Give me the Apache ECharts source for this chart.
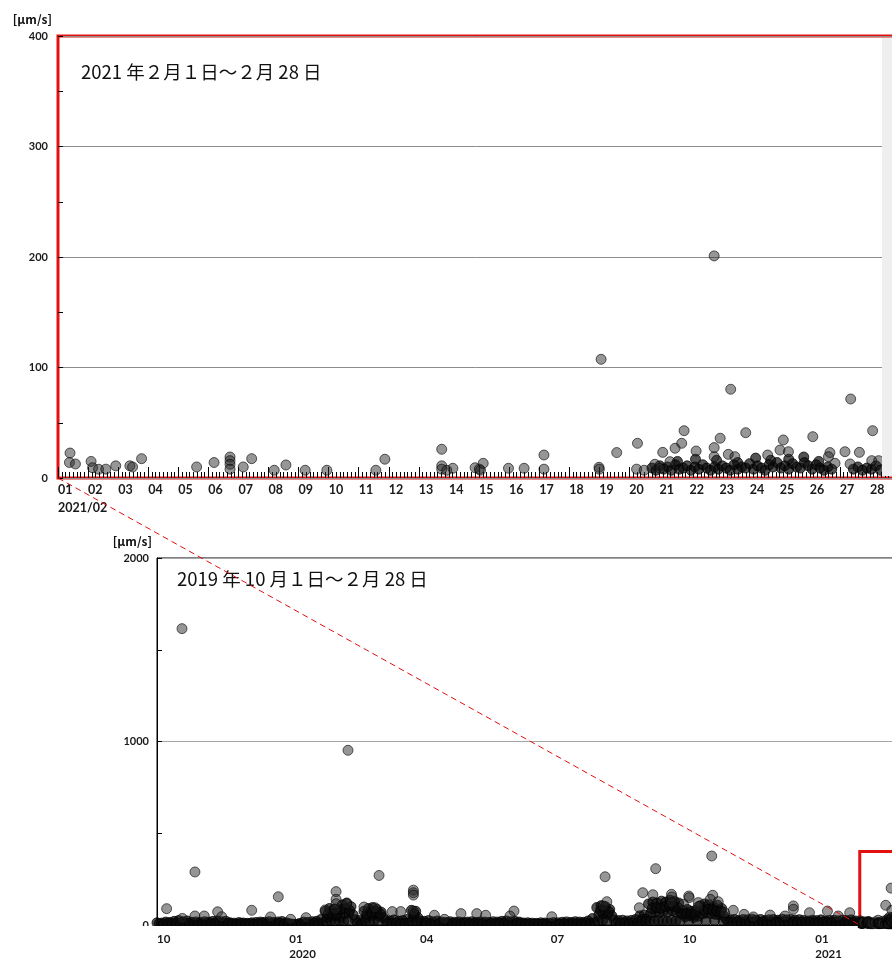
<!DOCTYPE html>
<html><head><meta charset="utf-8">
<script src="https://cdn.jsdelivr.net/npm/echarts@6/dist/echarts.min.js"></script>
<style>html,body{margin:0;padding:0;background:#fff}#c{width:892px;height:961px}</style>
</head><body><div id="c"></div>
<script>
// ---------- texts ----------
const topTitle = '2021 年２月１日～２月 28 日';
const bottomTitle = '2019 年 10 月１日～２月 28 日';
const unitLabel = '[µm/s]';
const topDayLabels = ['01','02','03','04','05','06','07','08','09','10','11','12','13','14','15','16','17','18','19','20','21','22','23','24','25','26','27','28'];
const topMonthLabel = '2021/02';
const bottomTickDays = [0, 92, 183, 274, 366, 458];          // days since 2019-10-01
const bottomTickLabels = ['10', '01\n2020', '04', '07', '10', '01\n2021'];
const febOffset = 489;   // days from 2019-10-01 to 2021-02-01
const topYTicks = [0, 100, 200, 300, 400];
const bottomYTicks = [0, 1000, 2000];

// ---------- Feb 2021 data: [day offset from 2021-02-01 00:00, µm/s] ----------
const febPoints = [
 [0.40,22.6],[0.38,14],[0.58,12.7],[1.10,15],[1.15,9.3],[1.35,7.9],[1.59,8],[1.92,11],[2.39,11],[2.48,10],
 [2.78,17.5],[4.61,10],[5.19,14],[5.72,19],[5.72,15.7],[5.72,12.4],[5.72,8],[6.16,10],[6.44,17.5],[7.19,7],
 [7.58,11.8],[8.22,7],[8.94,7],[10.57,7],[10.87,17],[12.76,26],[12.76,11],[12.76,8],[12.93,7],[13.13,8.8],
 [13.87,9.3],[14.01,8],[14.05,7],[14.14,13.3],[14.98,8.8],[15.50,8.8],[16.16,20.8],[16.16,8],[17.99,9.7],[18.0,8],
 [18.06,107.4],[18.58,23],[19.27,31.4],[19.24,8],[19.49,7],[19.85,12.4],[20.11,23.2],[20.02,8.8],[20.35,14.8],[20.52,26.9],
 [20.74,31.4],[20.82,42.8],[21.22,24.4],[21.82,201],[21.82,27.5],[21.82,19.3],[22.02,36],[22.29,21.4],[22.37,80.3],[22.51,19.3],
 [22.87,41],[23.60,20.8],[24.12,34.4],[24.01,25.3],[24.29,23.8],[25.10,37.4],[25.67,23],[25.62,19.3],[25.84,13.3],[26.17,23.8],
 [26.34,12.7],[26.36,71.5],[26.65,23.2],[27.09,42.8],[27.06,15.7],[27.29,15.7]
];
const febBand = [
 [19.75,9],[19.88,7],[20.01,11],[20.14,8],[20.27,10],[20.40,7],[20.53,12],[20.66,8],[20.79,9],[20.92,11],
 [21.05,7],[21.18,10],[21.31,8],[21.44,12],[21.57,9],[21.70,7],[21.83,10],[21.96,8],[22.09,11],[22.22,9],
 [22.35,7],[22.48,12],[22.61,8],[22.74,10],[22.87,9],[23.00,13],[23.13,8],[23.26,11],[23.39,9],[23.52,7],
 [23.65,12],[23.78,10],[23.91,14],[24.04,9],[24.17,11],[24.30,8],[24.43,13],[24.56,10],[24.69,9],[24.82,14],
 [24.95,11],[25.08,8],[25.21,12],[25.34,9],[25.47,7],[25.60,10],[25.73,8],
 [20.6,15],[21.2,17],[21.9,16],[22.6,14],[23.2,18],[23.7,16],[24.3,17],[24.8,19],[25.3,15],
 [26.45,8],[26.60,10],[26.75,7],[26.90,9],[27.05,8],[27.20,11],[27.35,7]
];

// ---------- Oct 2019 – Jan 2021 data ----------
// bandA: every 3 days from 2019-10-01 (day 0,3,6,...)
const bandA = [
 12,10,16,14,20,24,18,22,15,17, 14,18,16,20,22,18,20,12,10,13,
 11,9,12,14,16,15,18,14,17,19, 12,6,4,8,16,14,18,20,30,75,
 90,85,80,110,120,100,28,24,75,90, 95,85,70,26,22,28,20,24,30,80,
 75,22,20,24,18,22,16,14,18,15, 17,14,16,18,15,17,16,14,18,16,
 20,22,18,20,16,11,12,10,9,12, 11,10,13,12,15,17,14,18,16,15,
 22,35,95,105,100,85,28,24,26,22, 25,30,50,55,115,125,120,130,125,135,
 130,120,80,85,75,80,105,115,110,100, 108,90,32,28,30,26,30,28,32,27,
 30,25,28,30,26,32,28,30,27,29, 25,22,26,24,28,22,25,26,23,27,
 24,28,22
];
// bandB: every 3 days from day 1.5
const bandB = [
 8,6,9,7,10,8,6,9,7,8, 6,9,7,8,10,7,9,6,5,8,
 6,7,5,8,9,6,8,7,9,6, 7,3,2,5,8,6,9,7,12,40,
 45,50,42,60,65,55,10,8,40,50, 55,48,40,9,8,10,7,9,12,45,
 40,8,9,7,10,8,6,9,7,8, 6,9,7,8,6,9,7,8,6,9,
 8,10,7,9,8,5,6,5,4,6, 5,6,4,5,7,6,8,7,6,9,
 8,12,55,60,58,50,10,9,11,8, 10,12,30,32,65,70,68,75,72,78,
 70,65,45,50,42,48,60,65,62,58, 55,50,14,12,15,13,16,12,14,13,
 15,12,14,16,13,15,12,14,13,15, 12,14,11,13,15,12,14,13,12,14,
 13,11,12
];
// bandC: extra readings inside the active periods [day, µm/s]
const bandC = [
 [118,20],[121,25],[124,18],[127,22],[130,20],[133,25],[119,60],[122,62],[125,58],[128,85],[131,88],[134,80],
 [145,20],[148,18],[151,22],[154,20],[146,60],[149.5,70],[152.5,72],[155.5,60],
 [177.5,20],[180.5,18],[179,60],
 [307,20],[310,22],[313,18],[308.5,78],[311.5,80],[314.5,72],
 [337,18],[340,20],[343,22],[346,20],[349,24],[352,22],[355,20],[358,25],[361,22],[364,20],
 [344.5,90],[347.5,95],[350.5,92],[353.5,100],[356.5,105],[359.5,102],[362.5,95],
 [365.5,60],[368.5,62],[371.5,58],[374.5,60],[370,20],[376,22],[382,20],[388,24],[394,20],
 [380.5,80],[383.5,85],[386.5,82],[389.5,78],[392.5,75]
];
// peaks: individual readings [day since 2019-10-01, µm/s]
const peaks = [
 [6.7,89],[17.4,1615],[17.6,36],[26.4,289],[26.4,49],[32.9,49],[42.2,72],[45,45],[65.9,80],[79,44],
 [84.4,154],[93,31],[103.7,40],[117,82],[124.6,182],[124.6,140],[124.6,116],[124,86],[132,116],[132.9,952],
 [144,98],[151.7,94],[154.5,270],[163.7,73],[169.6,73],[178.4,190],[178.4,176],[178.4,163],[178.4,76],[193,53],
 [200,31],[211.5,62],[222.5,62],[228.7,53],[248.4,76],[245.6,49],[274.7,45],[311.8,263],[313,127],[310.5,104],
 [338,176],[335.6,94],[347,307],[345,165],[358,167],[358.3,153],[370,158],[370.3,149],[376.7,122],[376.7,100],
 [386.7,162],[385,140],[390.5,127],[366.3,113],[358,122],[386,376],[395,67],[401,80],[408.5,58],[415,44],
 [426.6,54],[437,49],[442.8,104],[442.8,86],[454,67],[466.5,76],[482,67],[474,49]
];

// ---------- chart ----------
const chart = echarts.init(document.getElementById('c'), null, {renderer: 'canvas'});
const dot = {
  type: 'scatter', symbol: 'circle', symbolSize: 10, animation: false, progressive: 0,
  itemStyle: {color: 'rgba(35,35,35,0.6)', borderColor: 'rgba(0,0,0,0.75)', borderWidth: 1},
  emphasis: {disabled: true}, silent: true
};
const bandStyle = {color: 'rgba(10,10,10,0.88)', borderColor: 'rgba(0,0,0,0.9)', borderWidth: 1};
const numFont = {fontFamily: 'Lato', fontWeight: 'bold', color: '#1a1a1a'};

const option = {
  backgroundColor: '#fff',
  animation: false,
  title: [
    {text: topTitle, left: 81, top: 63, padding: 0,
     textStyle: {fontFamily: 'Noto Sans CJK JP', fontSize: 18.5, fontWeight: 'normal', color: '#111'}},
    {text: bottomTitle, left: 177, top: 570, padding: 0,
     textStyle: {fontFamily: 'Noto Sans CJK JP', fontSize: 18.5, fontWeight: 'normal', color: '#111'}}
  ],
  grid: [
    {left: 58, top: 36, right: -8, bottom: 483, containLabel: false, outerBoundsMode: 'none',
     show: true, borderColor: '#e31010', borderWidth: 3, backgroundColor: 'transparent'},
    {left: 157, top: 558, right: -8, bottom: 36, containLabel: false, outerBoundsMode: 'none',
     show: true, borderColor: '#000', borderWidth: 1, backgroundColor: 'transparent'}
  ],
  xAxis: [
    {gridIndex: 0, type: 'value', min: 0, max: 28, interval: 1,
     name: topMonthLabel, nameLocation: 'start', nameGap: 0,
     nameTextStyle: {fontFamily: 'Lato', fontWeight: 'bold', fontSize: 12.5, color: '#1a1a1a', align: 'left', verticalAlign: 'top', padding: [23, 0, 0, 0]},
     axisLine: {show: false},
     axisTick: {show: true, inside: true, length: 11, lineStyle: {color: '#000', width: 1}},
     minorTick: {show: true, splitNumber: 8, length: 6, lineStyle: {color: '#000', width: 1}},
     splitLine: {show: false},
     axisLabel: {show: true, interval: 0, showMinLabel: true, hideOverlap: false, margin: 5, align: 'left', verticalAlign: 'top', fontSize: 12.5, ...numFont,
       formatter: v => v >= 28 ? '' : topDayLabels[v]}},
    {gridIndex: 1, type: 'value', min: 0, max: febOffset + 28,
     axisLine: {show: true, lineStyle: {color: '#000', width: 1}},
     axisTick: {show: false},
     splitLine: {show: false},
     axisLabel: {show: true, interval: 0, showMinLabel: true, hideOverlap: false, margin: 7, align: 'left', verticalAlign: 'top', lineHeight: 15, fontSize: 11.5, ...numFont,
       customValues: bottomTickDays,
       formatter: v => { const k = bottomTickDays.indexOf(v); return k < 0 ? '' : bottomTickLabels[k]; }}}
  ],
  yAxis: [
    {gridIndex: 0, type: 'value', min: topYTicks[0], max: topYTicks[topYTicks.length - 1], interval: 100,
     name: unitLabel, nameLocation: 'end', nameGap: 17,
     nameTextStyle: {fontFamily: 'Noto Sans CJK JP', fontWeight: 'bold', fontSize: 12, color: '#111', align: 'right', verticalAlign: 'middle', padding: [0, 6, 0, 0]},
     axisLine: {show: false},
     axisTick: {show: true, inside: true, length: 5, lineStyle: {color: '#000'}},
     minorTick: {show: true, splitNumber: 2, length: 5, lineStyle: {color: '#000'}},
     splitLine: {show: true, lineStyle: {color: '#8c8c8c', width: 1}},
     axisLabel: {margin: 10, fontSize: 11, ...numFont, showMinLabel: true, showMaxLabel: true, formatter: v => String(v)}},
    {gridIndex: 1, type: 'value', min: bottomYTicks[0], max: bottomYTicks[bottomYTicks.length - 1], interval: 1000,
     name: unitLabel, nameLocation: 'end', nameGap: 17,
     nameTextStyle: {fontFamily: 'Noto Sans CJK JP', fontWeight: 'bold', fontSize: 12, color: '#111', align: 'right', verticalAlign: 'middle', padding: [0, 5, 0, 0]},
     axisLine: {show: true, lineStyle: {color: '#000', width: 1}},
     axisTick: {show: true, inside: true, length: 5, lineStyle: {color: '#000'}},
     minorTick: {show: true, splitNumber: 2, length: 5, lineStyle: {color: '#000'}},
     splitLine: {show: true, lineStyle: {color: '#a6a6a6', width: 1}},
     axisLabel: {margin: 8, fontSize: 11, ...numFont, showMinLabel: true, showMaxLabel: true, formatter: v => String(v)}}
  ],
  series: [
    Object.assign({}, dot, {xAxisIndex: 0, yAxisIndex: 0, data: febBand, itemStyle: bandStyle}),
    Object.assign({}, dot, {xAxisIndex: 0, yAxisIndex: 0, data: febPoints}),
    Object.assign({}, dot, {xAxisIndex: 1, yAxisIndex: 1, data: bandA.map((v, i) => [i * 3, v]), itemStyle: bandStyle}),
    Object.assign({}, dot, {xAxisIndex: 1, yAxisIndex: 1, data: bandB.map((v, i) => [i * 3 + 1.5, v]), itemStyle: bandStyle}),
    Object.assign({}, dot, {xAxisIndex: 1, yAxisIndex: 1, data: bandC, itemStyle: bandStyle}),
    Object.assign({}, dot, {xAxisIndex: 1, yAxisIndex: 1, data: febBand.map(p => [p[0] + febOffset, p[1]]), itemStyle: bandStyle}),
    Object.assign({}, dot, {xAxisIndex: 1, yAxisIndex: 1, data: peaks}),
    Object.assign({}, dot, {xAxisIndex: 1, yAxisIndex: 1, data: febPoints.map(p => [p[0] + febOffset, p[1]]),
      markArea: {silent: true, itemStyle: {color: 'rgba(0,0,0,0)', borderColor: '#e31010', borderWidth: 3},
        data: [[{coord: [febOffset, 0]}, {coord: [febOffset + 28, topYTicks[topYTicks.length - 1]]}]]}})
  ]
};
chart.setOption(option);

const pTop = chart.convertToPixel({gridIndex: 0}, [0, 0]);
const pBot = chart.convertToPixel({gridIndex: 1}, [febOffset, 0]);
const pBotStart = chart.convertToPixel({gridIndex: 1}, [0, 0]);
const pTopTR = chart.convertToPixel({gridIndex: 0}, [0, topYTicks[topYTicks.length - 1]]);
chart.setOption({
  graphic: [
    {type: 'rect', z: 10, silent: true,
     shape: {x: pBotStart[0] - 20, y: pBotStart[1] + 1, width: pBot[0] - pBotStart[0] + 18, height: 6},
     style: {fill: '#fff'}},
    {type: 'rect', z: 10, silent: true,
     shape: {x: 882, y: pTopTR[1] + 2, width: 12, height: pTop[1] - pTopTR[1] - 4},
     style: {fill: '#efefef'}},
    {type: 'line', z: 20, silent: true,
     shape: {x1: pTop[0], y1: pTop[1], x2: pBot[0], y2: pBot[1]},
     style: {stroke: '#e31010', lineWidth: 1, lineDash: [6, 4]}}
  ]
});
</script>
</body></html>
